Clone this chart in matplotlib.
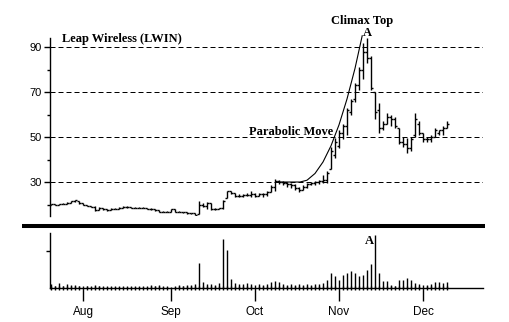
import numpy as np
import pandas as pd
import matplotlib
matplotlib.use("Agg")
import matplotlib.pyplot as plt
from matplotlib.lines import Line2D

# trading days Jul 21 - Dec 9 1999 (Labor Day, Thanksgiving closed)
days = pd.bdate_range("1999-07-21", periods=100, freq="C",
                      holidays=["1999-09-06", "1999-11-25"])

opens = [20.0, 20.1, 19.8, 20.2, 20.4, 20.8, 21.4, 21.6, 20.5, 19.9,
         19.4, 19.0, 17.6, 18.5, 17.8, 17.5, 18.2, 18.2, 18.5, 19.1,
         18.8, 18.5, 18.5, 18.5, 18.5, 18.2, 17.8, 17.4, 16.8, 16.8,
         16.9, 17.8, 16.8, 16.8, 16.5, 16.1, 16.1, 16.0, 20.0, 19.5,
         20.5, 18.0, 18.2, 18.3, 23.0, 25.8, 25.0, 24.0, 23.8, 24.3,
         24.2, 24.8, 24.0, 24.5, 24.5, 25.5, 28.0, 30.5, 30.0, 29.5,
         29.0, 28.5, 27.5, 26.5, 28.0, 29.0, 29.5, 30.0, 30.5, 31.0,
         36.0, 42.0, 46.0, 52.0, 55.0, 61.0, 67.0, 73.0, 80.0, 88.0,
         85.0, 70.0, 62.0, 54.0, 56.0, 59.0, 58.0, 54.0, 48.0, 47.0,
         45.0, 51.0, 56.0, 52.0, 49.0, 49.0, 50.0, 52.0, 53.0, 54.0]
highs = [20.4, 20.1, 20.4, 20.6, 21.0, 21.5, 22.0, 21.7, 20.6, 20.0,
         19.5, 19.2, 18.7, 18.6, 17.9, 18.4, 18.4, 18.7, 19.3, 19.2,
         18.9, 18.7, 18.7, 18.8, 18.6, 18.3, 17.9, 17.5, 17.1, 17.2,
         18.0, 17.9, 17.0, 16.9, 16.6, 16.3, 16.2, 21.5, 20.7, 21.0,
         20.5, 18.5, 18.5, 22.0, 26.1, 26.1, 25.2, 24.5, 24.7, 25.0,
         25.8, 25.0, 25.0, 25.0, 26.0, 28.5, 31.5, 31.0, 30.5, 30.0,
         29.5, 29.0, 28.0, 28.5, 29.5, 30.0, 30.5, 31.0, 33.0, 35.0,
         45.5, 49.5, 53.0, 56.0, 63.0, 67.0, 74.0, 81.0, 92.0, 94.0,
         86.0, 70.0, 65.0, 57.0, 60.7, 60.0, 59.0, 54.0, 50.0, 49.5,
         50.0, 60.7, 57.0, 52.0, 50.0, 51.0, 54.0, 53.0, 55.0, 57.0]
lows = [19.8, 19.7, 19.8, 20.1, 20.3, 20.7, 21.2, 20.3, 19.7, 19.2,
        18.8, 17.0, 17.5, 17.6, 17.2, 17.4, 17.9, 18.1, 18.4, 18.6,
        18.3, 18.3, 18.3, 18.3, 18.0, 17.6, 17.2, 16.6, 16.6, 16.7,
        16.8, 16.6, 16.6, 16.3, 15.9, 15.9, 15.2, 15.8, 18.9, 18.0,
        17.6, 17.6, 17.8, 18.2, 22.9, 24.7, 23.3, 23.3, 23.5, 23.8,
        23.5, 23.5, 23.8, 23.5, 24.0, 25.5, 26.0, 29.0, 28.5, 28.0,
        27.5, 26.5, 25.5, 26.5, 27.5, 28.5, 28.5, 29.0, 29.5, 29.6,
        36.0, 40.6, 45.0, 49.0, 51.0, 60.0, 65.5, 71.0, 76.0, 83.0,
        71.0, 58.0, 52.0, 53.0, 56.0, 55.0, 54.0, 47.0, 45.5, 43.0,
        44.0, 50.0, 51.0, 48.0, 48.0, 48.0, 50.0, 51.0, 51.0, 54.0]
closes = [20.1, 19.8, 20.2, 20.4, 20.8, 21.4, 21.8, 20.5, 19.9, 19.4,
          19.0, 17.6, 18.5, 17.8, 17.5, 18.2, 18.2, 18.5, 19.1, 18.8,
          18.5, 18.5, 18.5, 18.5, 18.2, 17.8, 17.4, 16.8, 16.8, 16.9,
          17.8, 16.8, 16.8, 16.5, 16.1, 16.1, 15.4, 20.0, 19.5, 20.5,
          18.0, 18.2, 18.3, 21.5, 25.8, 25.0, 24.0, 23.8, 24.3, 24.2,
          24.8, 24.0, 24.5, 24.5, 25.5, 28.0, 30.5, 30.0, 29.5, 29.0,
          28.5, 27.5, 26.5, 28.0, 29.0, 29.5, 30.0, 30.5, 31.0, 34.0,
          44.0, 48.0, 52.0, 55.0, 62.0, 66.0, 73.0, 80.0, 88.0, 85.0,
          72.0, 61.0, 54.0, 56.0, 59.0, 58.0, 55.0, 48.0, 47.0, 45.0,
          49.0, 58.0, 52.0, 49.0, 49.0, 50.0, 53.0, 53.0, 54.0, 56.0]
volume = [4, 2, 5, 2, 4, 3, 3, 2, 2, 2,
          1.5, 3, 2, 1.5, 1.5, 1.5, 1.5, 1.5, 1.5, 1.5,
          1.5, 1.5, 1.5, 1.5, 1.5, 3, 2, 3, 1.5, 1.5,
          1.5, 1.5, 3, 2, 3, 3, 4, 25, 6, 4,
          4, 3, 5, 49, 38, 9, 5, 4, 4, 5,
          4, 3, 4, 3, 4, 6, 7, 6, 4, 3,
          4, 3, 4, 3, 4, 3, 4, 4, 5, 8,
          15, 12, 8, 13, 15, 17, 15, 12, 13, 18,
          24, 53, 15, 7, 7, 3, 2, 8, 8, 10,
          8, 5, 4, 3, 3, 4, 6, 6, 5, 6]

# hand-drawn parabola (day index, price)
curve_x = [56.5, 62.25, 64, 66, 68, 70, 72, 74, 76, 77.8]
curve_y = [30, 30, 30.8, 33.8, 38.9, 46.1, 55.4, 66.9, 80.5, 95]

price_grid = [30, 50, 70, 90]

W, H = 510, 322
fig = plt.figure(figsize=(W / 100, H / 100), dpi=100)
fig.patch.set_facecolor("white")

def px(x0, y0, x1, y1):
    return [x0 / W, 1 - y1 / H, (x1 - x0) / W, (y1 - y0) / H]

x = np.arange(len(days))
xlim = (-0.25, 108)

# ---- price panel
ax = fig.add_axes(px(50, 0, 483, 216))
ax.set_xlim(*xlim)
ax.set_ylim(14.9, 110.9)
for s in ["top", "right", "bottom"]:
    ax.spines[s].set_visible(False)
ax.spines["left"].set_bounds(14.9, 94)
ax.spines["left"].set_linewidth(1)
ax.set_xticks([])
ax.set_yticks(price_grid)
ax.set_yticks([20, 40, 60, 80], minor=True)
ax.tick_params(axis="y", which="major", length=4, width=1, pad=2,
               labelsize=8, labelfontfamily="Liberation Sans")
ax.tick_params(axis="y", which="minor", length=2.5, width=1)
for g in price_grid:
    ax.axhline(g, color="black", lw=0.72, ls=(0, (5, 3)), zorder=1)

ax.vlines(x, lows, highs, color="black", lw=1, zorder=3)
ax.hlines(opens, x - 0.5, x, color="black", lw=1, zorder=3)
ax.hlines(closes, x, x + 0.5, color="black", lw=1, zorder=3)
ax.plot(curve_x, curve_y, color="black", lw=0.8, zorder=4)

serif = dict(family="Liberation Serif", weight="bold", fontsize=9, color="black")
ax.text(2.75, 93.6, "Leap Wireless (LWIN)", ha="left", va="center", **serif)
ax.text(77.75, 101.6, "Climax Top", ha="center", va="center", **serif)
ax.text(60, 52.4, "Parabolic Move", ha="center", va="center", **serif)
ax.text(79, 96.4, "A", ha="center", va="center", **serif)

# ---- separator
fig.add_artist(Line2D([22 / W, 485 / W], [1 - 226 / H] * 2, color="black",
                      lw=2.9, solid_capstyle="butt"))

# ---- volume panel
vx = fig.add_axes(px(50, 233, 483, 288))
vx.set_xlim(*xlim)
vx.set_ylim(0, 55)
for s in ["top", "right"]:
    vx.spines[s].set_visible(False)
vx.spines["left"].set_linewidth(1)
vx.spines["bottom"].set_linewidth(1)
vx.vlines(x, 0, volume, color="black", lw=1)
vx.set_yticks([37])
vx.set_yticklabels([])
vx.tick_params(axis="y", length=3, width=1)

month_pos = [i for i in range(1, len(days)) if days[i].month != days[i - 1].month]
vx.set_xticks(month_pos)
vx.set_xticklabels([days[i].strftime("%b") for i in month_pos])
vx.set_xticks(x, minor=True)
vx.tick_params(axis="x", which="major", length=9, width=1, pad=4,
               labelsize=8.5, labelfontfamily="Liberation Sans")
vx.tick_params(axis="x", which="minor", length=3, width=1, direction="inout")
vx.text(79.5, 47, "A", ha="center", va="center", **serif)

fig.savefig("out.png", dpi=100, facecolor="white")
